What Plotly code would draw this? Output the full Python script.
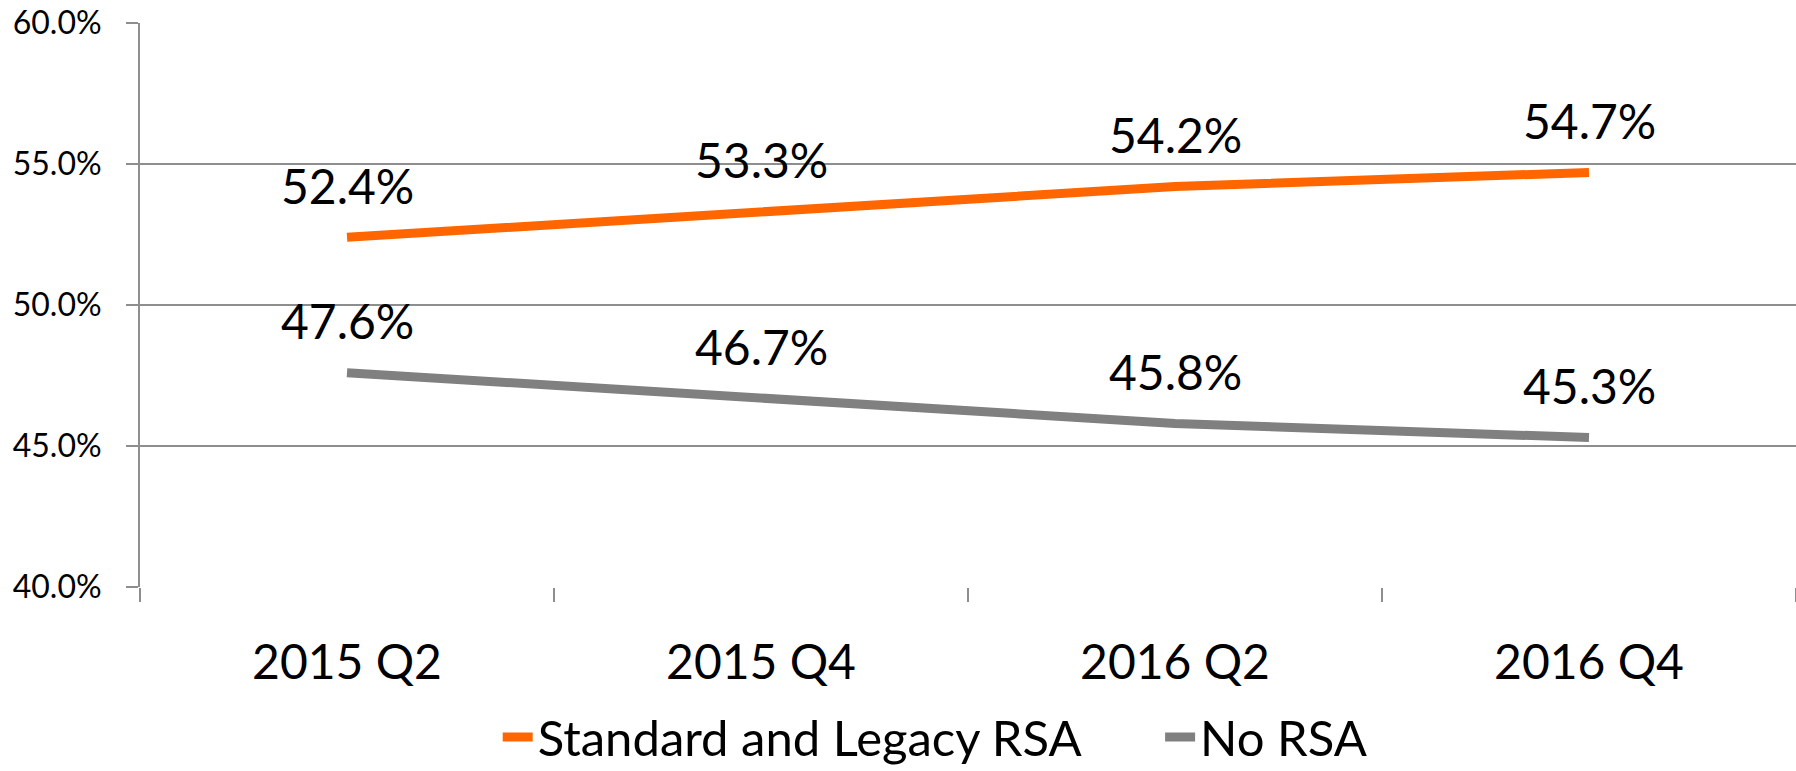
import plotly.graph_objects as go

categories = ["2015 Q2", "2015 Q4", "2016 Q2", "2016 Q4"]
standard_legacy_rsa = [52.4, 53.3, 54.2, 54.7]
no_rsa = [47.6, 46.7, 45.8, 45.3]
y_ticks = [40.0, 45.0, 50.0, 55.0, 60.0]
y_tick_labels = ["40.0%", "45.0%", "50.0%", "55.0%", "60.0%"]

series = [
    ("Standard and Legacy RSA", standard_legacy_rsa, "#FF6600", "legend"),
    ("No RSA", no_rsa, "#808080", "legend2"),
]

FONT = "Lato"
fig = go.Figure()
for name, vals, color, leg in series:
    fig.add_trace(go.Scatter(
        x=categories, y=vals, name=name, mode="lines", legend=leg,
        line=dict(color=color, width=9), hoverinfo="skip",
    ))
    for c, v in zip(categories, vals):
        fig.add_annotation(
            x=c, y=v, text=f"{v:.1f}%", showarrow=False, yshift=52,
            font=dict(family=FONT, size=48, color="#000000"),
        )

grid = "#8E8E8E"
legend_common = dict(
    orientation="h", xanchor="left",
    yref="container", y=0.044, yanchor="middle",
    font=dict(family=FONT, size=49, color="#000000"),
)
fig.update_layout(
    width=1796, height=771,
    margin=dict(l=140, r=0, t=23, b=184),
    paper_bgcolor="white", plot_bgcolor="white",
    showlegend=True,
    legend=dict(x=0.216, **legend_common),
    legend2=dict(x=0.616, **legend_common),
    xaxis=dict(
        type="category", range=[-0.5, 3.5], tickson="boundaries",
        ticks="outside", ticklen=14, tickwidth=2, tickcolor=grid,
        showline=False, showgrid=False, zeroline=False, automargin=False,
        tickfont=dict(family=FONT, size=48, color="#000000"),
        ticklabelstandoff=43,
    ),
    yaxis=dict(
        range=[40, 60], tickmode="array", tickvals=y_ticks, ticktext=y_tick_labels,
        ticks="outside", ticklen=12, tickwidth=2, tickcolor=grid,
        showgrid=True, gridcolor=grid, gridwidth=2, automargin=False,
        showline=True, linecolor=grid, linewidth=2, zeroline=False,
        tickfont=dict(family=FONT, size=32, color="#000000"),
        ticklabelstandoff=18,
    ),
)
fig.write_html(
    "out.html",
    config={"displayModeBar": False},
    post_script="document.body.style.margin='0';document.body.style.overflow='hidden';",
)
